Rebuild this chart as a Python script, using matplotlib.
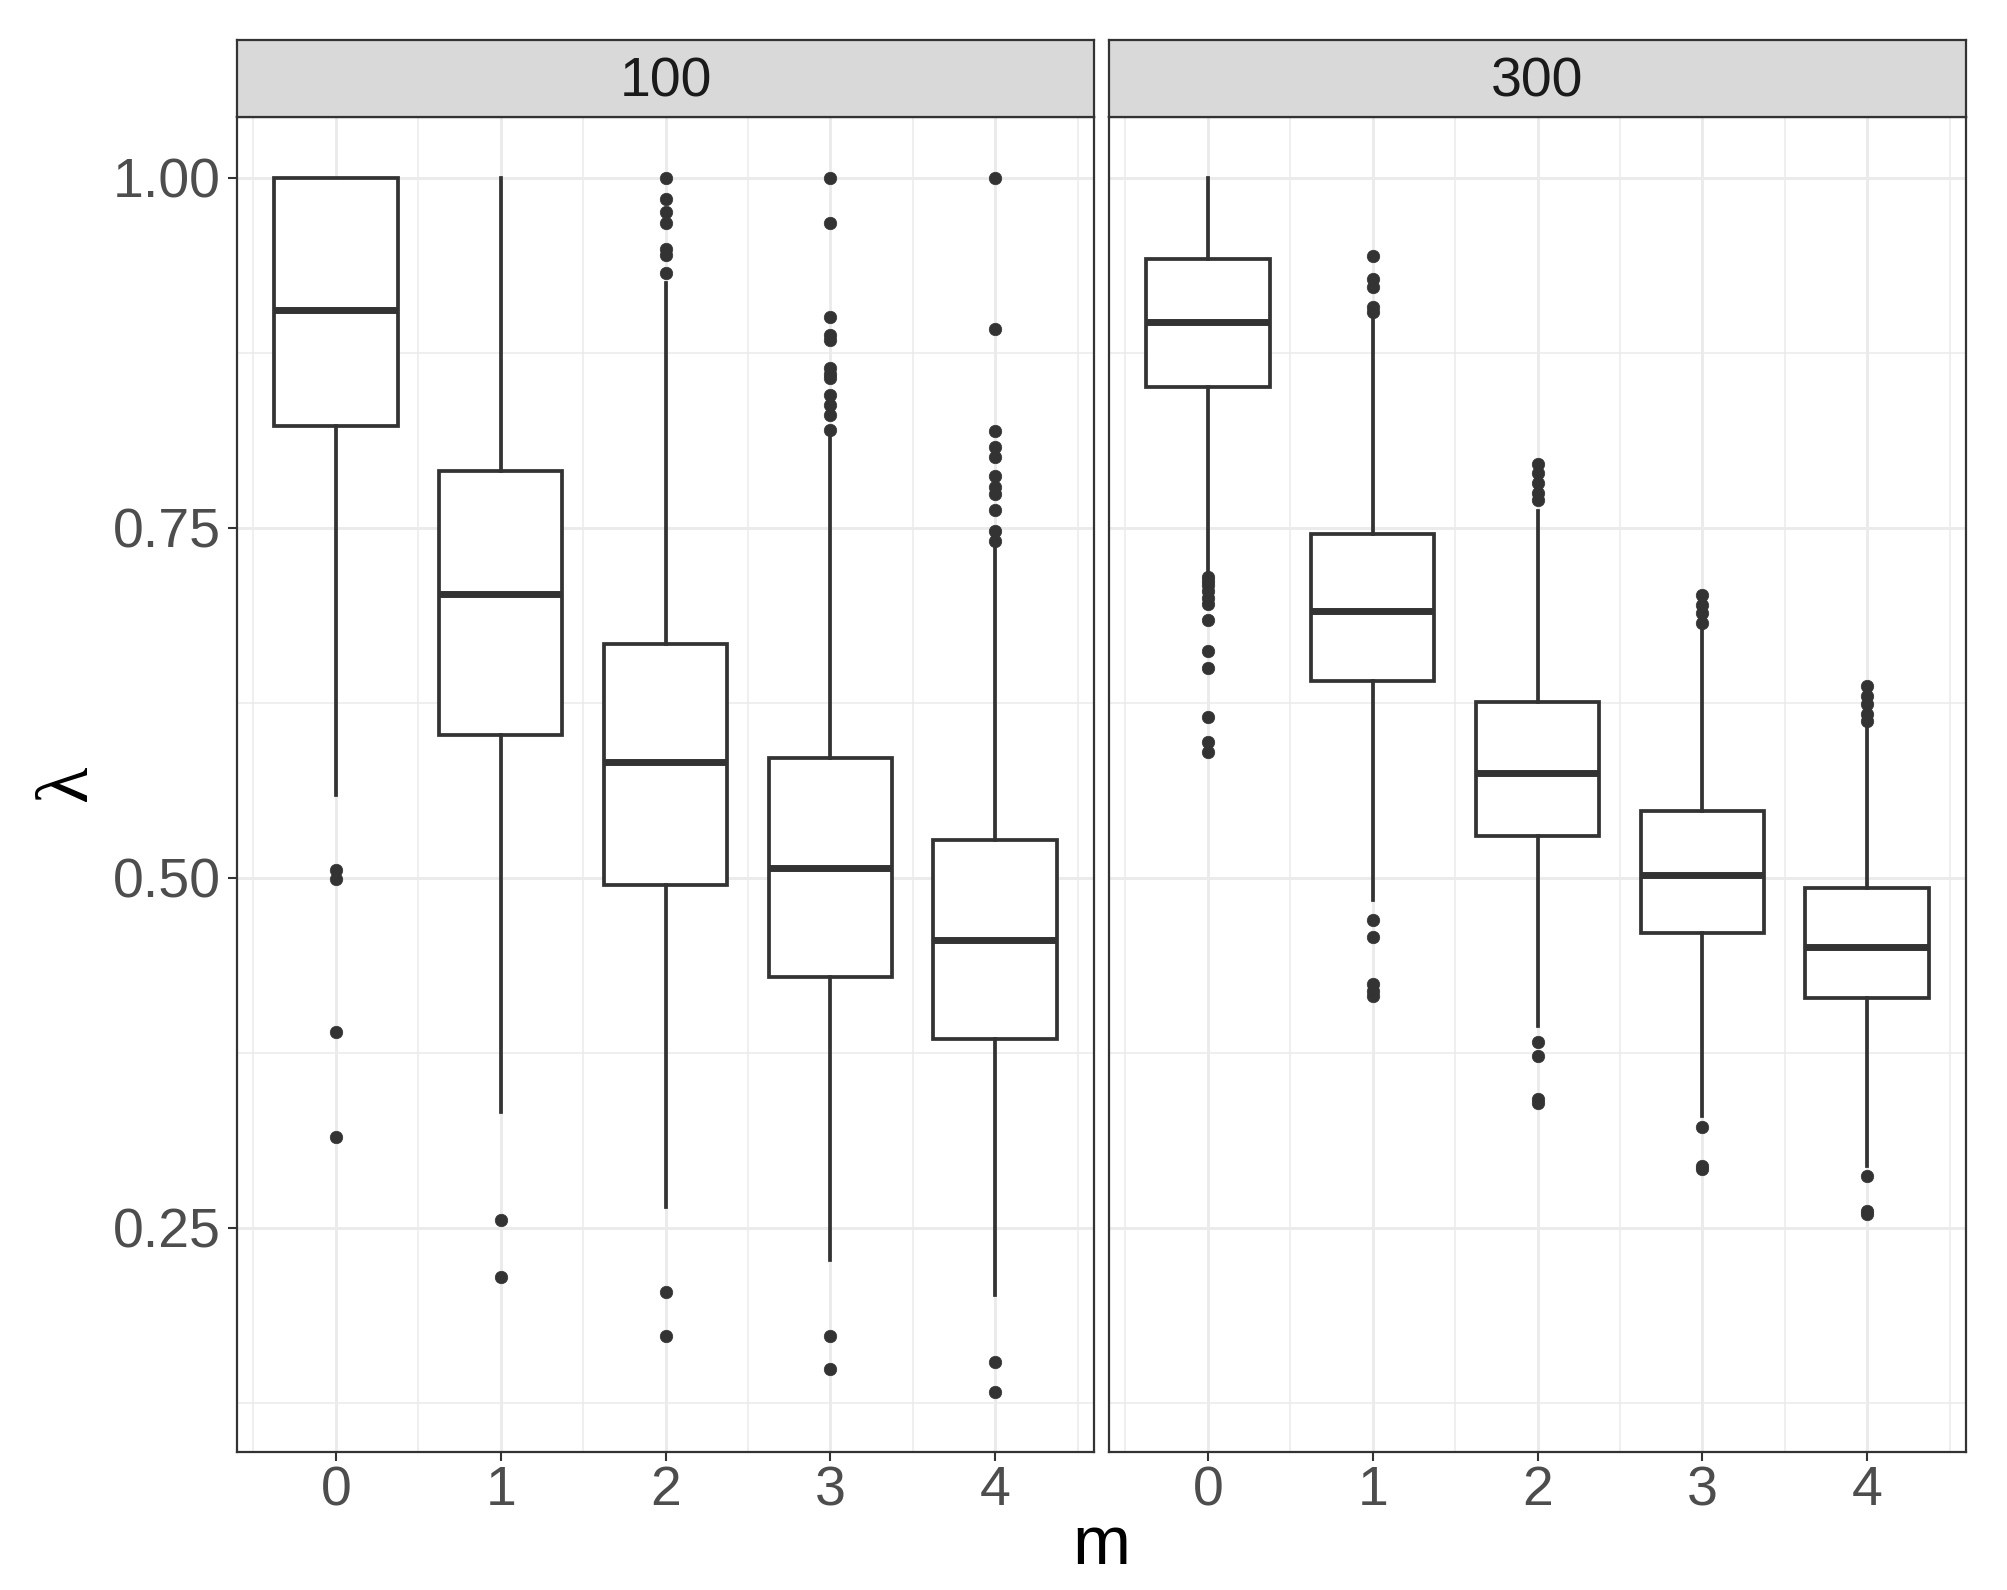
import matplotlib
matplotlib.use("Agg")
import matplotlib.pyplot as plt

plt.rcParams['font.family'] = ['Liberation Sans', 'DejaVu Sans']

# ---- data ----
m_levels = [0, 1, 2, 3, 4]
panels = ["100", "300"]

n100_q1 = [0.823, 0.602, 0.495, 0.429, 0.385]
n100_med = [0.906, 0.703, 0.583, 0.507, 0.456]
n100_q3 = [1.000, 0.791, 0.667, 0.586, 0.527]
n100_lo = [0.559, 0.333, 0.265, 0.227, 0.202]
n100_hi = [1.000, 1.000, 0.925, 0.814, 0.736]
n100_out = [
    [0.506, 0.499, 0.390, 0.315],
    [0.256, 0.215],
    [1.000, 0.985, 0.976, 0.968, 0.949, 0.945, 0.932, 0.204, 0.173],
    [1.000, 0.968, 0.901, 0.888, 0.884, 0.864, 0.860, 0.857, 0.845, 0.838,
     0.831, 0.820, 0.173, 0.149],
    [1.000, 0.892, 0.819, 0.808, 0.801, 0.787, 0.779, 0.774, 0.763, 0.748,
     0.741, 0.154, 0.133],
]

n300_q1 = [0.851, 0.641, 0.530, 0.461, 0.414]
n300_med = [0.897, 0.691, 0.575, 0.502, 0.451]
n300_q3 = [0.942, 0.746, 0.626, 0.548, 0.493]
n300_lo = [0.719, 0.484, 0.394, 0.330, 0.294]
n300_hi = [1.000, 0.900, 0.762, 0.680, 0.609]
n300_out = [
    [0.715, 0.712, 0.709, 0.705, 0.700, 0.696, 0.684, 0.662, 0.650, 0.615,
     0.597, 0.590],
    [0.944, 0.928, 0.922, 0.908, 0.904, 0.470, 0.458, 0.424, 0.419, 0.416],
    [0.796, 0.789, 0.782, 0.775, 0.770, 0.383, 0.373, 0.342, 0.339],
    [0.702, 0.695, 0.689, 0.682, 0.322, 0.294, 0.292],
    [0.637, 0.630, 0.624, 0.617, 0.612, 0.287, 0.262, 0.260],
]

y_ticks = [0.25, 0.50, 0.75, 1.00]
y_tick_labels = ["0.25", "0.50", "0.75", "1.00"]

data = {
    "100": (n100_q1, n100_med, n100_q3, n100_lo, n100_hi, n100_out),
    "300": (n300_q1, n300_med, n300_q3, n300_lo, n300_hi, n300_out),
}

# ---- figure ----
W, H = 2008, 1590
fig = plt.figure(figsize=(W / 100, H / 100), dpi=100)

dark = "#333333"
grid_c = "#EBEBEB"

panel_x = [237, 1109]
panel_w = 857
panel_top = 116.5
panel_bot = 1452
strip_top = 40

for i, name in enumerate(panels):
    x0 = panel_x[i] / W
    ax = fig.add_axes([x0, 1 - panel_bot / H, panel_w / W, (panel_bot - panel_top) / H])
    q1, med, q3, lo, hi, out = data[name]
    stats = []
    for k in range(len(m_levels)):
        stats.append(dict(q1=q1[k], med=med[k], q3=q3[k], whislo=lo[k],
                          whishi=hi[k], fliers=out[k]))
    ax.bxp(stats, positions=m_levels, widths=0.75, showcaps=False,
           patch_artist=True,
           boxprops=dict(facecolor="white", edgecolor=dark, linewidth=2.7),
           whiskerprops=dict(color=dark, linewidth=2.7),
           medianprops=dict(color=dark, linewidth=5.0, solid_capstyle="butt"),
           flierprops=dict(marker="o", markerfacecolor=dark, markeredgecolor=dark,
                           markersize=9.0, markeredgewidth=0.5, linestyle="none"),
           zorder=3)

    ax.set_xlim(-0.6, 4.6)
    ax.set_ylim(0.09, 1.0439)
    ax.set_facecolor("white")
    # grid
    for y in [0.125, 0.375, 0.625, 0.875]:
        ax.axhline(y, color=grid_c, lw=1.1, zorder=0)
    for y in y_ticks:
        ax.axhline(y, color=grid_c, lw=2.1, zorder=0)
    for x in [-0.5, 0.5, 1.5, 2.5, 3.5, 4.5]:
        ax.axvline(x, color=grid_c, lw=1.1, zorder=0)
    for x in m_levels:
        ax.axvline(x, color=grid_c, lw=2.1, zorder=0)

    ax.set_xticks(m_levels)
    ax.set_xticklabels([str(m) for m in m_levels])
    ax.set_yticks(y_ticks)
    if i == 0:
        ax.set_yticklabels(y_tick_labels)
        ax.tick_params(axis="y", length=6.5, width=1.5, color=dark,
                       labelsize=40, labelcolor="#4D4D4D", pad=5)
    else:
        ax.tick_params(axis="y", length=0, labelleft=False)
    ax.tick_params(axis="x", length=6.5, width=1.5, color=dark,
                   labelsize=40, labelcolor="#4D4D4D", pad=3)
    for sp in ax.spines.values():
        sp.set_color(dark)
        sp.set_linewidth(1.6)
        sp.set_zorder(5)

    # strip
    sax = fig.add_axes([x0, 1 - panel_top / H, panel_w / W, (panel_top - strip_top) / H])
    sax.set_facecolor("#D9D9D9")
    sax.set_xticks([])
    sax.set_yticks([])
    for sp in sax.spines.values():
        sp.set_color(dark)
        sp.set_linewidth(1.6)
    sax.text(0.5, 0.44, name, ha="center", va="center", fontsize=40,
             color="#1A1A1A", transform=sax.transAxes)

fig.text((237 + 1966) / 2 / W, 1 - 1546 / H, "m", ha="center", va="center",
         fontsize=50, color="black")
fig.text(68 / W, 1 - 783 / H, "λ", ha="center", va="center", rotation=90,
         fontsize=54, color="black", family=["Liberation Serif", "DejaVu Serif"])

fig.savefig("out.png", dpi=100, facecolor="white")
